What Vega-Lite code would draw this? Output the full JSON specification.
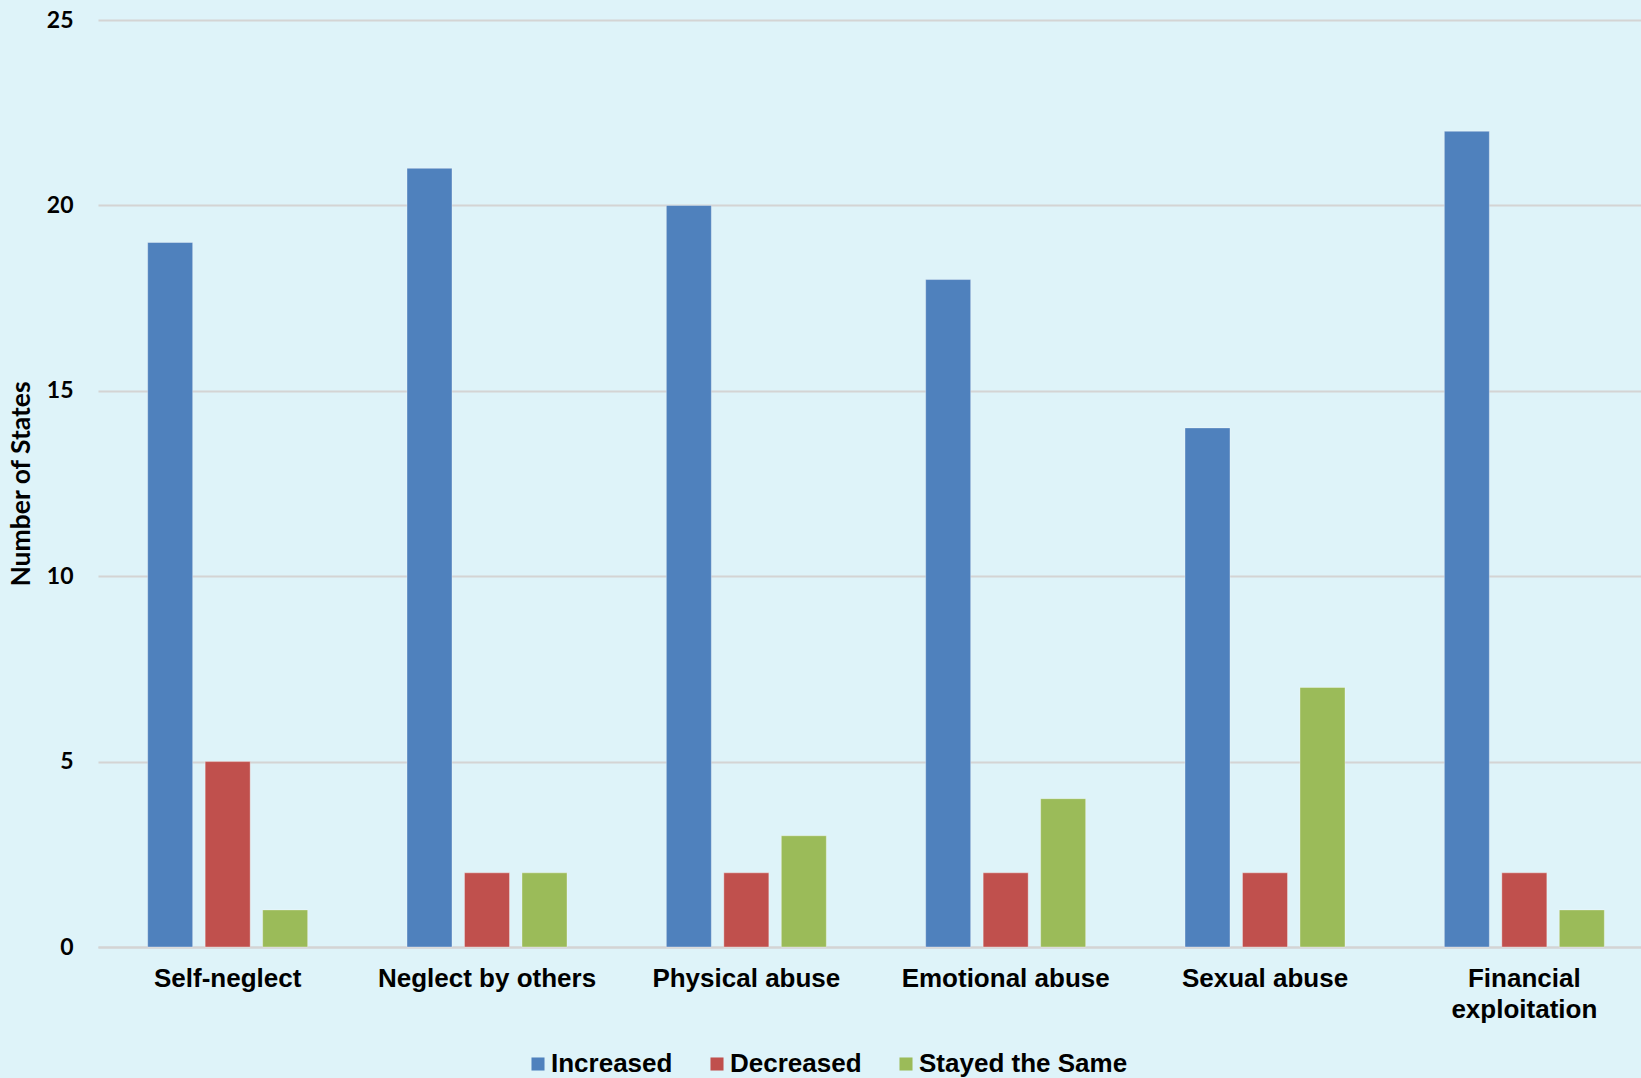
{
  "$schema": "https://vega.github.io/schema/vega-lite/v6.json",
  "width": 1556,
  "height": 927,
  "autosize": {"type": "none"},
  "padding": {"left": 98, "top": 20, "right": -13, "bottom": 131},
  "background": "#def3f9",
  "data": {
    "values": [
      {"type": "Self-neglect", "status": "Increased", "states": 19},
      {"type": "Self-neglect", "status": "Decreased", "states": 5},
      {"type": "Self-neglect", "status": "Stayed the Same", "states": 1},
      {"type": "Neglect by others", "status": "Increased", "states": 21},
      {"type": "Neglect by others", "status": "Decreased", "states": 2},
      {"type": "Neglect by others", "status": "Stayed the Same", "states": 2},
      {"type": "Physical abuse", "status": "Increased", "states": 20},
      {"type": "Physical abuse", "status": "Decreased", "states": 2},
      {"type": "Physical abuse", "status": "Stayed the Same", "states": 3},
      {"type": "Emotional abuse", "status": "Increased", "states": 18},
      {"type": "Emotional abuse", "status": "Decreased", "states": 2},
      {"type": "Emotional abuse", "status": "Stayed the Same", "states": 4},
      {"type": "Sexual abuse", "status": "Increased", "states": 14},
      {"type": "Sexual abuse", "status": "Decreased", "states": 2},
      {"type": "Sexual abuse", "status": "Stayed the Same", "states": 7},
      {"type": "Financial exploitation", "status": "Increased", "states": 22},
      {"type": "Financial exploitation", "status": "Decreased", "states": 2},
      {"type": "Financial exploitation", "status": "Stayed the Same", "states": 1}
    ]
  },
  "mark": {"type": "bar", "strokeWidth": 1, "strokeOpacity": 0.35, "stroke": "#ffffff"},
  "encoding": {
    "x": {
      "field": "type",
      "type": "nominal",
      "sort": null,
      "scale": {"paddingInner": 0.383, "paddingOuter": 0.1915},
      "axis": {
        "title": null,
        "labelAngle": 0,
        "labelFont": "Liberation Sans",
        "labelFontWeight": "bold",
        "labelFontSize": 26,
        "labelColor": "#000000",
        "labelPadding": 18,
        "labelLineHeight": 31,
        "labelLimit": 400,
        "ticks": false,
        "domain": true,
        "domainColor": "#d4d4d4",
        "domainWidth": 2,
        "grid": false,
        "labelExpr": "datum.label == 'Financial exploitation' ? ['Financial', 'exploitation'] : datum.label"
      }
    },
    "xOffset": {
      "field": "status",
      "type": "nominal",
      "sort": ["Increased", "Decreased", "Stayed the Same"],
      "scale": {"paddingInner": 0.217, "paddingOuter": 0}
    },
    "y": {
      "field": "states",
      "type": "quantitative",
      "scale": {"domain": [0, 25], "nice": false},
      "axis": {
        "title": "Number of States",
        "titleFont": "Lato",
        "titleFontWeight": "bold",
        "titleFontSize": 26.5,
        "titleColor": "#000000",
        "titlePadding": 11,
        "values": [0, 5, 10, 15, 20, 25],
        "labelFont": "Lato",
        "labelFontWeight": "bold",
        "labelFontSize": 23,
        "labelColor": "#000000",
        "labelPadding": 25,
        "ticks": false,
        "domain": false,
        "grid": true,
        "gridColor": "#d4d4d4",
        "gridWidth": 2
      }
    },
    "color": {
      "field": "status",
      "type": "nominal",
      "sort": ["Increased", "Decreased", "Stayed the Same"],
      "scale": {
        "domain": ["Increased", "Decreased", "Stayed the Same"],
        "range": ["#4f81bd", "#c0504d", "#9bbb59"]
      },
      "legend": {
        "title": null,
        "orient": "none",
        "direction": "horizontal",
        "legendX": 427,
        "legendY": 1031,
        "padding": 0,
        "symbolType": "square",
        "symbolSize": 170,
        "symbolStrokeWidth": 0,
        "symbolOpacity": 1,
        "labelFont": "Liberation Sans",
        "labelFontWeight": "bold",
        "labelFontSize": 26,
        "labelColor": "#000000",
        "labelOffset": 0,
        "columnPadding": 31,
        "labelLimit": 400
      }
    }
  },
  "config": {
    "view": {"stroke": null}
  }
}
